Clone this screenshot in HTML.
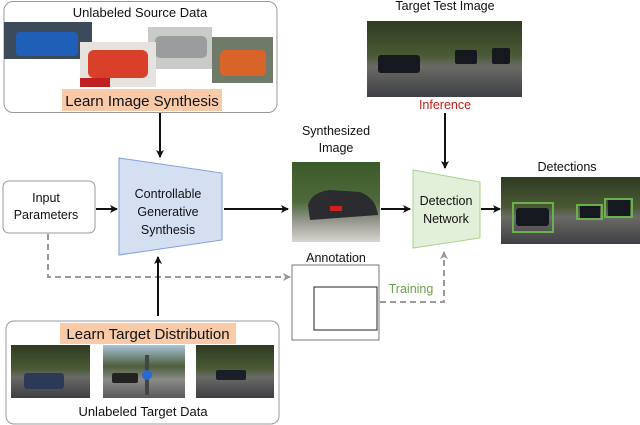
<!DOCTYPE html>
<html><head><meta charset="utf-8"><style>
html,body{margin:0;padding:0;background:#fff}
svg{display:block}
text{font-family:"Liberation Sans",sans-serif;fill:#111}
</style></head><body>
<svg width="640" height="425" viewBox="0 0 640 425" xmlns="http://www.w3.org/2000/svg">
<defs>
<linearGradient id="road" x1="0" y1="0" x2="0" y2="1">
<stop offset="0" stop-color="#2f3a22"/><stop offset="0.45" stop-color="#4a5a34"/><stop offset="0.6" stop-color="#6a6a66"/><stop offset="1" stop-color="#3e3f44"/></linearGradient>
<linearGradient id="road2" x1="0" y1="0" x2="0" y2="1">
<stop offset="0" stop-color="#a9c4d8"/><stop offset="0.4" stop-color="#4d5e3a"/><stop offset="0.65" stop-color="#8a8a88"/><stop offset="1" stop-color="#5a5a5c"/></linearGradient>
<linearGradient id="synth" x1="0" y1="0" x2="0" y2="1">
<stop offset="0" stop-color="#3b5a2a"/><stop offset="0.5" stop-color="#4f6a3a"/><stop offset="0.75" stop-color="#9a9a92"/><stop offset="1" stop-color="#d8d6d0"/></linearGradient>
<marker id="ah" markerWidth="8" markerHeight="8" refX="7" refY="4" orient="auto" markerUnits="userSpaceOnUse"><path d="M0,0 L8,4 L0,8 L2,4 z" fill="#111"/></marker>
<marker id="ag" markerWidth="8" markerHeight="8" refX="7" refY="4" orient="auto" markerUnits="userSpaceOnUse"><path d="M0,0 L8,4 L0,8 L2,4 z" fill="#999"/></marker>
</defs>

<!-- top source box -->
<rect x="4" y="1.5" width="273" height="111" rx="9" fill="#fff" stroke="#999" stroke-width="1"/>
<text x="140" y="17" font-size="13" text-anchor="middle">Unlabeled Source Data</text>
<rect x="4" y="22" width="88" height="37" fill="#3d4a5a"/><rect x="16" y="32" width="62" height="24" rx="4" fill="#1f5fb8"/>
<rect x="148" y="27" width="64" height="42" fill="#c9cbc8"/><rect x="155" y="36" width="52" height="22" rx="5" fill="#9a9d9e"/>
<rect x="80" y="42" width="76" height="45" fill="#e6e3de"/><rect x="88" y="50" width="60" height="28" rx="6" fill="#d8402a"/><rect x="80" y="78" width="30" height="9" fill="#c02020"/>
<rect x="212" y="37" width="61" height="46" fill="#6f7a68"/><rect x="220" y="50" width="46" height="26" rx="5" fill="#d8642a"/>
<rect x="62" y="89" width="160" height="22" fill="#f8caa8"/>
<text x="142" y="106" font-size="15" text-anchor="middle">Learn Image Synthesis</text>
<line x1="160" y1="113" x2="160" y2="157" stroke="#111" stroke-width="2" marker-end="url(#ah)"/>

<!-- generator -->
<polygon points="119,158 222,173 222,240 119,255" fill="#d5dff2" stroke="#7fa0d8" stroke-width="1"/>
<text x="168" y="198" font-size="12.5" text-anchor="middle">Controllable</text>
<text x="168" y="216" font-size="12.5" text-anchor="middle">Generative</text>
<text x="168" y="234" font-size="12.5" text-anchor="middle">Synthesis</text>

<!-- input params -->
<rect x="3" y="181" width="92" height="52" rx="6" fill="#fff" stroke="#999"/>
<text x="46" y="202" font-size="12.5" text-anchor="middle">Input</text>
<text x="46" y="219" font-size="12.5" text-anchor="middle">Parameters</text>
<line x1="96" y1="209" x2="117" y2="209" stroke="#111" stroke-width="2" marker-end="url(#ah)"/>
<line x1="224" y1="209" x2="288" y2="209" stroke="#111" stroke-width="2" marker-end="url(#ah)"/>

<!-- synthesized -->
<text x="336" y="135" font-size="12.5" text-anchor="middle">Synthesized</text>
<text x="336" y="152" font-size="12.5" text-anchor="middle">Image</text>
<rect x="292" y="162" width="88" height="80" fill="url(#synth)"/>
<path d="M308,205 Q312,192 330,190 L360,192 Q376,198 378,215 L310,220 z" fill="#2a2c30"/><rect x="330" y="206" width="12" height="5" fill="#d02020"/>
<line x1="381" y1="209" x2="410" y2="209" stroke="#111" stroke-width="2" marker-end="url(#ah)"/>

<!-- target test image -->
<text x="445" y="10" font-size="12.5" text-anchor="middle">Target Test Image</text>
<rect x="367" y="21" width="155" height="76" fill="url(#road)"/>
<rect x="378" y="55" width="42" height="18" rx="3" fill="#15181e"/><rect x="455" y="50" width="22" height="14" rx="2" fill="#15181e"/><rect x="492" y="48" width="18" height="16" rx="2" fill="#15181e"/>
<text x="445" y="109" font-size="12.5" text-anchor="middle" style="fill:#c0201a">Inference</text>
<line x1="445" y1="113" x2="445" y2="168" stroke="#111" stroke-width="2" marker-end="url(#ah)"/>

<!-- detection network -->
<polygon points="413,170 480,182 480,238 413,248" fill="#e2f0d9" stroke="#a9d18e" stroke-width="1"/>
<text x="446" y="205" font-size="12.5" text-anchor="middle">Detection</text>
<text x="446" y="223" font-size="12.5" text-anchor="middle">Network</text>
<line x1="481" y1="209" x2="500" y2="209" stroke="#111" stroke-width="2" marker-end="url(#ah)"/>

<!-- detections -->
<text x="567" y="171" font-size="12.5" text-anchor="middle">Detections</text>
<rect x="501" y="177" width="139" height="67" fill="url(#road)"/>
<rect x="516" y="208" width="33" height="18" rx="3" fill="#15181e"/><rect x="580" y="206" width="20" height="12" fill="#15181e"/><rect x="608" y="200" width="22" height="16" fill="#15181e"/>
<rect x="513" y="203" width="40" height="29" fill="none" stroke="#6ab04c" stroke-width="2"/>
<rect x="577" y="205" width="25" height="14" fill="none" stroke="#6ab04c" stroke-width="2"/>
<rect x="605" y="199" width="27" height="18" fill="none" stroke="#6ab04c" stroke-width="2"/>

<!-- annotation -->
<text x="336" y="262" font-size="12.5" text-anchor="middle">Annotation</text>
<rect x="292" y="265" width="87" height="75" fill="#fff" stroke="#777" stroke-width="1"/>
<rect x="314" y="287" width="63" height="43" fill="#fff" stroke="#222" stroke-width="1"/>
<text x="411" y="293" font-size="12.5" text-anchor="middle" style="fill:#6aa04a">Training</text>
<polyline points="380,302 444,302 444,252" fill="none" stroke="#999" stroke-width="2" stroke-dasharray="6,4" marker-end="url(#ag)"/>

<!-- dashed params to annotation -->
<polyline points="48,234 48,277 290,277" fill="none" stroke="#999" stroke-width="2" stroke-dasharray="6,4" marker-end="url(#ag)"/>

<line x1="158" y1="316" x2="158" y2="257" stroke="#111" stroke-width="2" marker-end="url(#ah)"/>

<!-- bottom target box -->
<rect x="6" y="321" width="273" height="103" rx="8" fill="#fff" stroke="#999"/>
<rect x="60" y="323" width="176" height="21" fill="#f8caa8"/>
<text x="148" y="339" font-size="15" text-anchor="middle">Learn Target Distribution</text>
<rect x="11" y="345" width="79" height="53" fill="url(#road)"/><rect x="24" y="373" width="40" height="16" rx="3" fill="#2c3a58"/>
<rect x="103" y="345" width="82" height="53" fill="url(#road2)"/><rect x="112" y="373" width="26" height="10" rx="2" fill="#222"/><rect x="145" y="355" width="4" height="40" fill="#444"/><circle cx="147" cy="375" r="5" fill="#2a6ad0"/>
<rect x="196" y="345" width="78" height="53" fill="url(#road)"/><rect x="216" y="370" width="30" height="10" rx="2" fill="#1a1e26"/>
<text x="143" y="416" font-size="13" text-anchor="middle">Unlabeled Target Data</text>
</svg>
</body></html>
